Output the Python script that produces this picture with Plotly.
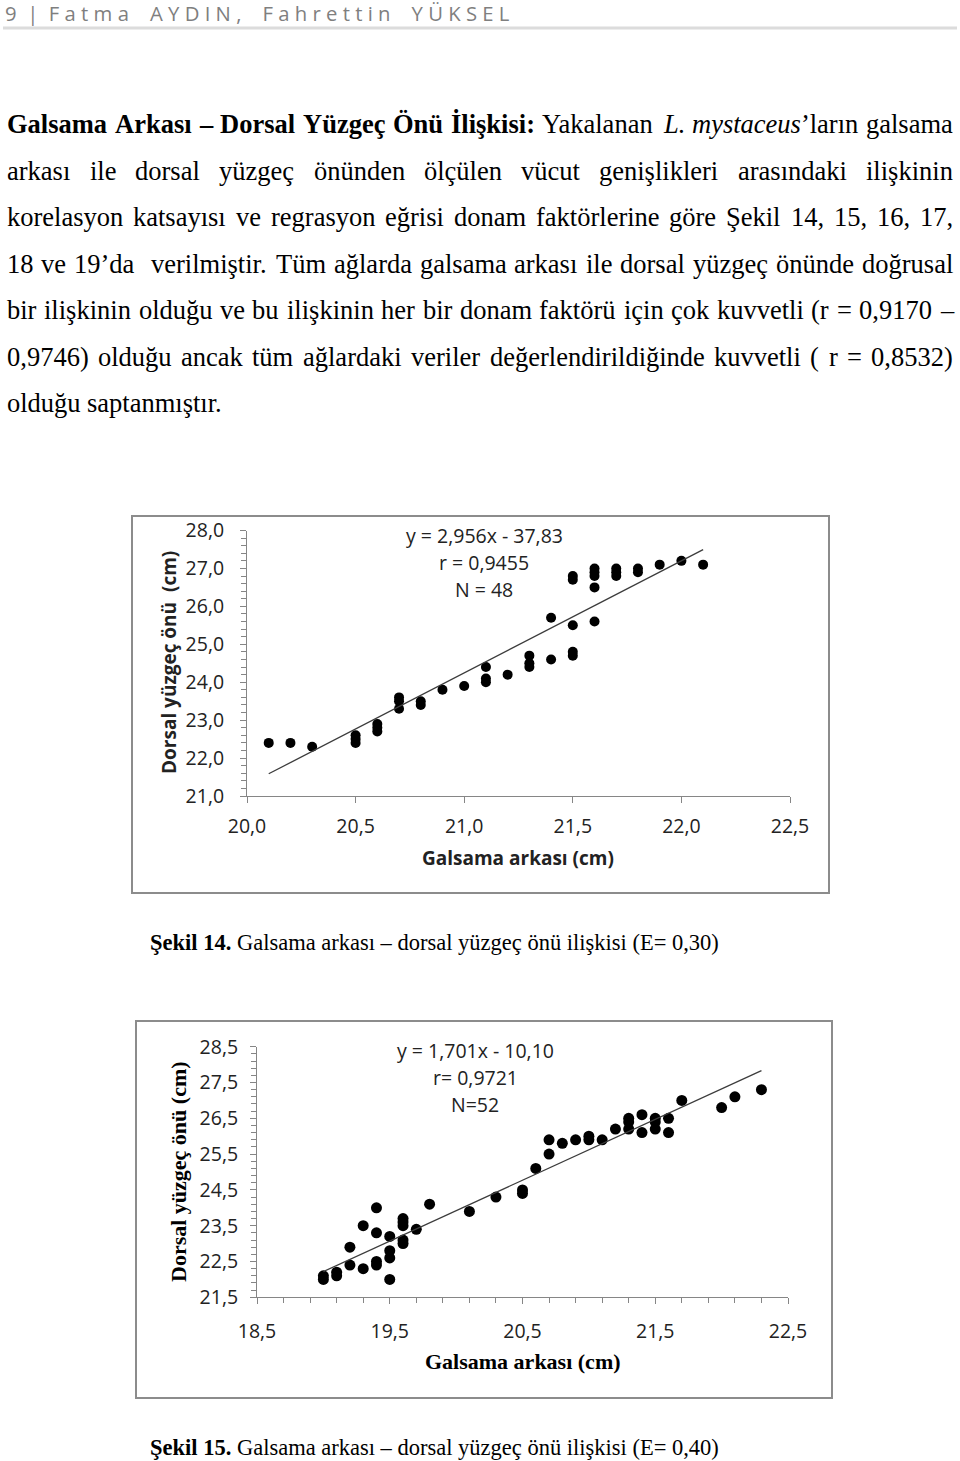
import plotly.graph_objects as go

W, H = 960, 1461

# ---------------- chart data ----------------
# Şekil 14 (E = 0,30)
x1 = [20.1, 20.2, 20.3, 20.5, 20.5, 20.5, 20.6, 20.6, 20.6, 20.7, 20.7, 20.7, 20.8, 20.8, 20.9, 21.0,
      21.1, 21.1, 21.1, 21.2, 21.3, 21.3, 21.3, 21.4, 21.4, 21.5, 21.5, 21.5, 21.5, 21.5,
      21.6, 21.6, 21.6, 21.6, 21.6, 21.7, 21.7, 21.7, 21.8, 21.8, 21.9, 22.0, 22.1]
y1 = [22.4, 22.4, 22.3, 22.6, 22.5, 22.4, 22.9, 22.8, 22.7, 23.6, 23.5, 23.3, 23.5, 23.4, 23.8, 23.9,
      24.4, 24.1, 24.0, 24.2, 24.7, 24.5, 24.4, 25.7, 24.6, 26.8, 26.7, 25.5, 24.8, 24.7,
      27.0, 26.9, 26.8, 26.5, 25.6, 27.0, 26.9, 26.8, 27.0, 26.9, 27.1, 27.2, 27.1]
fit1_slope, fit1_icpt = 2.956, -37.83
fit1_x = [20.1, 22.1]
eq1_lines = ["y = 2,956x - 37,83", "r = 0,9455", "N = 48"]

# Şekil 15 (E = 0,40)
x2 = [19.0, 19.0, 19.1, 19.1, 19.2, 19.2, 19.3, 19.3, 19.4, 19.4, 19.4, 19.4,
      19.5, 19.5, 19.5, 19.5, 19.6, 19.6, 19.6, 19.6, 19.6, 19.7, 19.8, 20.1, 20.3,
      20.5, 20.5, 20.6, 20.7, 20.7, 20.8, 20.9, 21.0, 21.0, 21.1, 21.2,
      21.3, 21.3, 21.3, 21.4, 21.4, 21.5, 21.5, 21.5, 21.6, 21.6, 21.7, 22.0, 22.1, 22.3]
y2 = [22.1, 22.0, 22.2, 22.1, 22.9, 22.4, 23.5, 22.3, 24.0, 23.3, 22.5, 22.4,
      23.2, 22.8, 22.6, 22.0, 23.7, 23.6, 23.5, 23.1, 23.0, 23.4, 24.1, 23.9, 24.3,
      24.5, 24.4, 25.1, 25.9, 25.5, 25.8, 25.9, 26.0, 25.9, 25.9, 26.2,
      26.5, 26.4, 26.2, 26.6, 26.1, 26.5, 26.4, 26.2, 26.5, 26.1, 27.0, 26.8, 27.1, 27.3]
fit2_slope, fit2_icpt = 1.701, -10.10
fit2_x = [19.0, 22.3]
eq2_lines = ["y = 1,701x - 10,10", "r= 0,9721", "N=52"]

axis_title_y = "Dorsal yüzgeç önü  (cm)"
axis_title_x = "Galsama arkası (cm)"
axis_title_y2 = "Dorsal yüzgeç önü (cm)"

header_words = ["9", "|", "Fatma", "AYDIN,", "Fahrettin", "YÜKSEL"]

# Body text (b: bold, i: italic, | joins segments of one word)
body_lines = [
    ("b:Galsama b:Arkası b:– b:Dorsal b:Yüzgeç b:Önü b:İlişkisi: Yakalanan i:L. i:mystaceus|’ların galsama", True),
    ("arkası ile dorsal yüzgeç önünden ölçülen vücut genişlikleri arasındaki ilişkinin", True),
    ("korelasyon katsayısı ve regrasyon eğrisi donam faktörlerine göre Şekil 14, 15, 16, 17,", True),
    ("18 ve 19’da  verilmiştir. Tüm ağlarda galsama arkası ile dorsal yüzgeç önünde doğrusal", True),
    ("bir ilişkinin olduğu ve bu ilişkinin her bir donam faktörü için çok kuvvetli (r = 0,9170 –", True),
    ("0,9746) olduğu ancak tüm ağlardaki veriler değerlendirildiğinde kuvvetli ( r = 0,8532)", True),
    ("olduğu saptanmıştır.", False),
]
caption1 = ("Şekil 14.", " Galsama arkası – dorsal yüzgeç önü ilişkisi (E= 0,30)")
caption2 = ("Şekil 15.", " Galsama arkası – dorsal yüzgeç önü ilişkisi (E= 0,40)")

# ---------------- text metrics (Times / Liberation Serif, 1/1000 em) ----------------
REG = {' ': 250, '(': 333, ')': 333, ',': 250, '-': 333, '.': 250, ':': 278, '=': 564, '–': 500, '’': 333,
       'A': 722, 'E': 611, 'G': 722, 'L': 611, 'N': 722, 'T': 611, 'Ş': 556, 'Y': 722,
       'a': 444, 'b': 500, 'c': 444, 'd': 500, 'e': 444, 'f': 333, 'g': 500, 'h': 500, 'i': 278,
       'j': 278, 'k': 500, 'l': 278, 'm': 778, 'n': 500, 'o': 500, 'p': 500, 'r': 333, 's': 389,
       't': 278, 'u': 500, 'v': 500, 'w': 722, 'x': 500, 'y': 500, 'z': 444,
       'ç': 444, 'ğ': 500, 'ı': 278, 'ö': 500, 'ş': 389, 'ü': 500}
BOLD = {' ': 250, ':': 333, '–': 500, '.': 250, 'G': 778, 'A': 722, 'D': 722, 'Y': 722, 'Ö': 778,
        'İ': 389, 'Ş': 556, 'a': 500, 'r': 444, 'k': 556, 's': 389, 'ı': 278, 'o': 500, 'l': 278,
        'ü': 556, 'z': 444, 'g': 500, 'e': 444, 'ç': 444, 'n': 556, 'i': 278, 'ş': 389, 'm': 833}
ITAL = {'L': 556, '.': 250, 'm': 722, 'y': 444, 's': 389, 't': 278, 'a': 500, 'c': 444, 'e': 444, 'u': 500}
for d in '0123456789':
    REG[d] = 500
    BOLD[d] = 500
TABLES = {'r': REG, 'b': BOLD, 'i': ITAL}

BODY_FS = 26.5
TEXT_L, TEXT_R = 7.0, 953.0
SERIF = "Liberation Serif"
SANS = "Open Sans"


def px(x):
    return x / W


def py(y):
    return 1 - y / H


def parse_word(tok):
    segs = []
    for s in tok.split('|'):
        if s.startswith('b:'):
            segs.append(('b', s[2:]))
        elif s.startswith('i:'):
            segs.append(('i', s[2:]))
        elif s:
            segs.append(('r', s))
    return segs


def seg_width(segs, fs):
    tot = 0
    for st, t in segs:
        tab = TABLES[st]
        tot += sum(tab.get(ch, REG.get(ch, 500)) for ch in t)
    return tot / 1000.0 * fs


def seg_html(segs):
    out = ''
    for st, t in segs:
        if st == 'b':
            out += '<b>' + t + '</b>'
        elif st == 'i':
            out += '<i>' + t + '</i>'
        else:
            out += t
    return out


annotations = []


def add_text(x, y, text, size, family, color='black', xanchor='left', angle=0):
    annotations.append(dict(x=px(x), y=py(y), xref='paper', yref='paper', text=text, showarrow=False,
                            xanchor=xanchor, yanchor='middle', textangle=angle,
                            borderpad=0, borderwidth=0,
                            font=dict(family=family, size=size, color=color)))


# body paragraph, justified word by word
base0, lead = 133.0, 46.5
for i, (spec, justify) in enumerate(body_lines):
    toks = spec.split(' ')
    words = [parse_word(t) for t in toks]
    widths = [seg_width(w, BODY_FS) for w in words]
    gaps = len(toks) - 1
    if justify:
        gap = (TEXT_R - TEXT_L - sum(widths)) / gaps
    else:
        gap = 0.25 * BODY_FS
    xcur = TEXT_L
    ymid = base0 + i * lead - 0.3375 * BODY_FS
    for w, wd in zip(words, widths):
        if w:
            add_text(xcur, ymid, seg_html(w), BODY_FS, SERIF)
        xcur += wd + gap

# running header (letter-spaced)
nb = '\u00a0'
parts = [nb.join(list(wd)) for wd in header_words]
hdr = parts[0] + nb * 2 + parts[1] + nb * 2 + parts[2]
for p in parts[3:]:
    hdr += nb * 4 + p
add_text(5, 13.5, hdr, 20.3, SANS, color='#7f7f7f')

# captions
CAP_FS = 22.5
for (b, r), base in ((caption1, 950), (caption2, 1455)):
    add_text(150, base - 0.3375 * CAP_FS, '<b>' + b + '</b>' + r, CAP_FS, SERIF)

# equation text
for j, t in enumerate(eq1_lines):
    add_text(484, [536, 563, 590][j], t, 19.5, SANS, color='#222222', xanchor='center')
for j, t in enumerate(eq2_lines):
    add_text(475, [1050, 1077, 1104][j], t, 19.5, SANS, color='#222222', xanchor='center')

# axis titles
add_text(169, 663, '<b>' + axis_title_y + '</b>', 19, SANS, color='#222222', xanchor='center', angle=-90)
add_text(518, 858, '<b>' + axis_title_x + '</b>', 19, SANS, color='#222222', xanchor='center')
add_text(178, 1172, '<b>' + axis_title_y2 + '</b>', 22, SERIF, xanchor='center', angle=-90)
add_text(523, 1361, '<b>' + axis_title_x + '</b>', 22, SERIF, xanchor='center')

# ---------------- figure ----------------
fig = go.Figure()
fig.add_trace(go.Scatter(x=x1, y=y1, mode='markers', marker=dict(color='black', size=10),
                         xaxis='x', yaxis='y', hoverinfo='skip'))
fig.add_trace(go.Scatter(x=fit1_x, y=[fit1_slope * v + fit1_icpt for v in fit1_x], mode='lines',
                         line=dict(color='#3c3c3c', width=1.3), xaxis='x', yaxis='y'))
fig.add_trace(go.Scatter(x=x2, y=y2, mode='markers', marker=dict(color='black', size=11),
                         xaxis='x2', yaxis='y2', hoverinfo='skip'))
fig.add_trace(go.Scatter(x=fit2_x, y=[fit2_slope * v + fit2_icpt for v in fit2_x], mode='lines',
                         line=dict(color='#3c3c3c', width=1.3), xaxis='x2', yaxis='y2'))

AX = '#868686'
common = dict(showgrid=False, zeroline=False, showline=True, linecolor=AX, linewidth=1,
              ticks='outside', tickcolor=AX, ticklen=6, tickwidth=1, tickformat='.1f',
              tickfont=dict(family=SANS, size=19.5, color='#222222'), fixedrange=True,
              automargin=False)
minor_y1 = dict(dtick=0.2, tick0=21, ticks='outside', ticklen=5, tickcolor=AX, showgrid=False)
minor_2 = dict(dtick=0.2, ticks='outside', ticklen=5, tickcolor=AX, showgrid=False)

fig.update_layout(
    width=W, height=H, margin=dict(l=0, r=0, t=0, b=0, pad=0, autoexpand=False),
    paper_bgcolor='white', plot_bgcolor='white', showlegend=False,
    separators=',.',
    xaxis=dict(domain=[px(247), px(790)], range=[20, 22.5], tick0=20, dtick=0.5, anchor='y',
               ticklabelstandoff=7, **common),
    yaxis=dict(domain=[py(796), py(530.5)], range=[21, 28], tick0=21, dtick=1, anchor='x',
               minor=minor_y1, ticklabelstandoff=12, **common),
    xaxis2=dict(domain=[px(257), px(788)], range=[18.5, 22.5], tick0=18.5, dtick=1, anchor='y2',
                minor=dict(tick0=18.5, **minor_2), ticklabelstandoff=10, **common),
    yaxis2=dict(domain=[py(1297.3), py(1046.7)], range=[21.5, 28.5], tick0=21.5, dtick=1, anchor='x2',
                minor=dict(tick0=21.5, **minor_2), ticklabelstandoff=8, **common),
    annotations=annotations,
    shapes=[
        dict(type='line', xref='paper', yref='paper', x0=px(3), x1=px(957), y0=py(28), y1=py(28),
             line=dict(color='#dcdcdc', width=3)),
        dict(type='rect', xref='paper', yref='paper', x0=px(132), x1=px(829), y0=py(893), y1=py(516),
             line=dict(color='#8c8c8c', width=2)),
        dict(type='rect', xref='paper', yref='paper', x0=px(136), x1=px(832), y0=py(1398), y1=py(1021),
             line=dict(color='#8c8c8c', width=2)),
    ],
)

fig.write_html("out.html", config={'displayModeBar': False, 'staticPlot': True},
               post_script="document.body.style.margin='0';document.body.style.padding='0';"
                           "document.documentElement.style.overflow='hidden';")
